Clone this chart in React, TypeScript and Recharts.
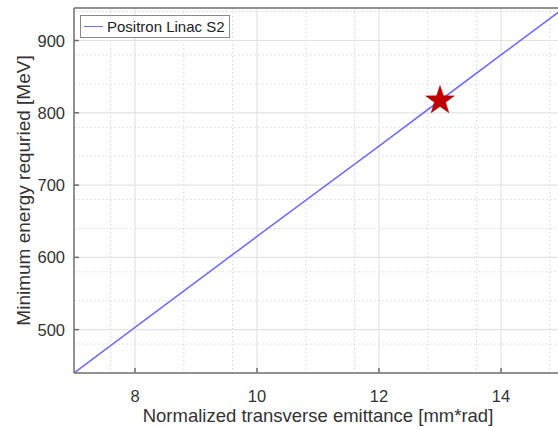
import { ComposedChart, Line, Scatter, XAxis, YAxis, CartesianGrid, Legend } from 'recharts';

const emittance = [7, 8, 10, 12, 13, 14, 15];
const energy = [440, 503, 629, 754, 817, 880, 943];
const markerEmittance = [13];
const markerEnergy = [817];

const xTicks = [8, 10, 12, 14];
const yTicks = [500, 600, 700, 800, 900];
const xMinor = [7.2, 7.6, 8.4, 8.8, 9.2, 9.6, 10.4, 10.8, 11.2, 11.6, 12.4, 12.8, 13.2, 13.6, 14.4, 14.8];
const yMinor = [460, 480, 520, 540, 560, 580, 620, 640, 660, 680, 720, 740, 760, 780, 820, 840, 860, 880, 920, 940];

const lineData = emittance.map((x, i) => ({ x, line: energy[i] }));
const starData = markerEmittance.map((x, i) => ({ x, star: markerEnergy[i] }));

const FONT = '"Liberation Sans", Arial, Helvetica, sans-serif';
const AXIS = '#6e6e6e';
const TEXT = '#333';

const BottomTick = ({ x, y, payload }: any) => (
  <g>
    <line x1={x} x2={x} y1={y} y2={y - 5} stroke={AXIS} strokeWidth={1.5} />
    <text x={x} y={y + 29} textAnchor="middle" fontSize={16.5} fontFamily={FONT} fill={TEXT}>
      {payload.value}
    </text>
  </g>
);

const TopTick = ({ x, y }: any) => (
  <line x1={x} x2={x} y1={y} y2={y + 5} stroke={AXIS} strokeWidth={1.5} />
);

const LeftTick = ({ x, y, payload }: any) => (
  <g>
    <line x1={x} x2={x + 5} y1={y} y2={y} stroke={AXIS} strokeWidth={1.5} />
    <text x={x - 9} y={y + 6} textAnchor="end" fontSize={16.5} fontFamily={FONT} fill={TEXT}>
      {payload.value}
    </text>
  </g>
);

const Star = ({ cx, cy }: any) => {
  const R = 15;
  const r = 5.9;
  const pts: string[] = [];
  for (let k = 0; k < 10; k++) {
    const rad = k % 2 === 0 ? R : r;
    const a = -Math.PI / 2 + (k * Math.PI) / 5;
    pts.push(`${cx + rad * Math.cos(a)},${cy + rad * Math.sin(a)}`);
  }
  return <polygon points={pts.join(' ')} fill="#c00000" stroke="#b00000" strokeWidth={0.5} />;
};

const LegendBox = () => (
  <div
    style={{
      border: '1.5px solid #8a8a8a',
      background: '#fff',
      display: 'flex',
      alignItems: 'center',
      padding: '1px 4px 1px 3px',
      fontFamily: FONT,
      fontSize: 15,
      color: '#222',
      lineHeight: '19px',
      width: 'max-content',
    }}
  >
    <span style={{ display: 'inline-block', width: 19, borderTop: '1.5px solid #6f6fff', marginRight: 4 }} />
    Positron Linac S2
  </div>
);

export default function App() {
  return (
    <div style={{ position: 'fixed', left: 0, top: 0, width: 558, height: 427, overflow: 'hidden', background: '#fff' }}>
      <ComposedChart width={572} height={427} margin={{ top: 7, right: 10, left: 0, bottom: 0 }}>
        <CartesianGrid
          verticalValues={xMinor}
          horizontalValues={yMinor}
          stroke="#d6d6d6"
          strokeDasharray="1.5 2.5"
        />
        <CartesianGrid verticalValues={xTicks} horizontalValues={yTicks} stroke="#e3e3e3" strokeWidth={1.2} />
        <XAxis
          xAxisId="top"
          orientation="top"
          type="number"
          dataKey="x"
          domain={[7, 15]}
          ticks={xTicks}
          height={1}
          tickSize={0}
          tickMargin={0}
          tick={<TopTick />}
          axisLine={{ stroke: AXIS, strokeWidth: 1.5 }}
          tickLine={false}
        />
        <XAxis
          type="number"
          dataKey="x"
          domain={[7, 15]}
          ticks={xTicks}
          allowDataOverflow
          height={54}
          tickSize={0}
          tickMargin={0}
          tick={<BottomTick />}
          tickLine={false}
          axisLine={{ stroke: AXIS, strokeWidth: 1.5 }}
          label={{
            value: 'Normalized transverse emittance [mm*rad]',
            position: 'center',
            dy: 15,
            fontSize: 18.5,
            fontFamily: FONT,
            fill: TEXT,
          }}
        />
        <YAxis
          type="number"
          domain={[440, 945]}
          ticks={yTicks}
          allowDataOverflow
          width={74}
          tickSize={0}
          tickMargin={0}
          tick={<LeftTick />}
          tickLine={false}
          axisLine={{ stroke: AXIS, strokeWidth: 1.5 }}
          label={{
            value: 'Minimum energy requried [MeV]',
            angle: -90,
            position: 'center',
            dx: -14,
            fontSize: 19,
            fontFamily: FONT,
            fill: TEXT,
          }}
        />
        <Legend
          layout="horizontal"
          verticalAlign="middle"
          align="center"
          content={<LegendBox />}
          wrapperStyle={{ position: 'absolute', left: 80, top: 15, width: 'auto', height: 'auto' }}
        />
        <Line
          data={lineData}
          dataKey="line"
          stroke="#6f6fff"
          strokeWidth={1.6}
          dot={false}
          isAnimationActive={false}
        />
        <Scatter data={starData} dataKey="star" shape={<Star />} isAnimationActive={false} />
      </ComposedChart>
    </div>
  );
}
